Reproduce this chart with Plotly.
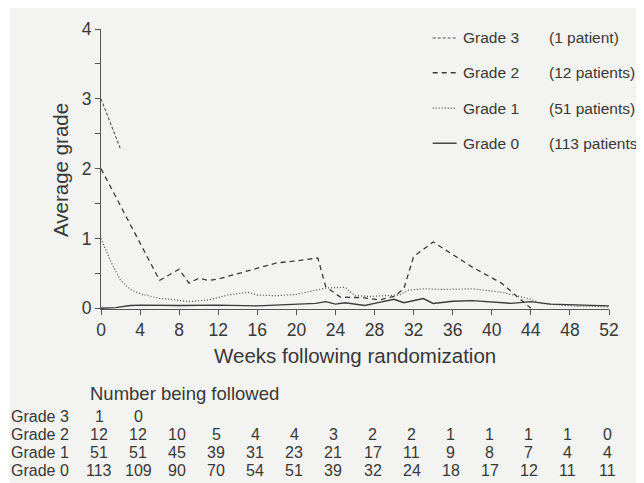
import plotly.graph_objects as go

# ---------------- data ----------------
g3_weeks = [0, 2]
g3_vals = [3.0, 2.28]

g2_weeks = [0, 2, 4, 6, 8, 9, 10, 11, 12, 14, 16, 18, 20, 22.2, 23, 24.5, 27, 28.5, 30, 31, 32, 34, 38, 41, 44]
g2_vals = [2.0, 1.47, 0.95, 0.40, 0.56, 0.36, 0.43, 0.40, 0.42, 0.50, 0.58, 0.65, 0.68, 0.72, 0.31, 0.16, 0.15, 0.12, 0.17, 0.28, 0.74, 0.95, 0.59, 0.36, 0.0]

g1_weeks = [0, 1, 2, 3, 4, 6, 7, 9, 11, 13, 15, 16, 18, 20, 23, 25, 26, 27.5, 30.5, 31.5, 33, 35, 38, 41, 44, 45, 48, 52]
g1_vals = [1.0, 0.67, 0.40, 0.27, 0.21, 0.14, 0.13, 0.095, 0.12, 0.19, 0.23, 0.19, 0.18, 0.20, 0.29, 0.30, 0.18, 0.17, 0.19, 0.26, 0.28, 0.27, 0.28, 0.23, 0.13, 0.07, 0.035, 0.02]

g0_weeks = [0, 1.5, 3, 4, 8, 12, 16, 18, 20, 22, 23, 24, 25, 27, 28, 30, 31, 33, 34, 36, 38, 42, 44, 46, 52]
g0_vals = [0.0, 0.01, 0.04, 0.045, 0.04, 0.045, 0.035, 0.05, 0.06, 0.07, 0.095, 0.06, 0.08, 0.04, 0.07, 0.13, 0.08, 0.14, 0.07, 0.10, 0.11, 0.07, 0.095, 0.06, 0.035]

x_ticks = [0, 4, 8, 12, 16, 20, 24, 28, 32, 36, 40, 44, 48, 52]
y_ticks = [0, 0.5, 1, 1.5, 2, 2.5, 3, 3.5, 4]
y_ticklabels = ["0", "", "1", "", "2", "", "3", "", "4"]

legend_names = ["Grade 3", "Grade 2", "Grade 1", "Grade 0"]
legend_counts = ["(1 patient)", "(12 patients)", "(51 patients)", "(113 patients)"]

table_rows = ["Grade 3", "Grade 2", "Grade 1", "Grade 0"]
follow_g3 = [1, 0]
follow_g2 = [12, 12, 10, 5, 4, 4, 3, 2, 2, 1, 1, 1, 1, 0]
follow_g1 = [51, 51, 45, 39, 31, 23, 21, 17, 11, 9, 8, 7, 4, 4]
follow_g0 = [113, 109, 90, 70, 54, 51, 39, 32, 24, 18, 17, 12, 11, 11]

# ---------------- styling ----------------
FONT = "Liberation Sans, Arial, Helvetica, sans-serif"
TXT = "#383838"
LINE = "#3a3a3a"
styles = [
    dict(color="#555555", width=1.1, dash="3px,2px"),
    dict(color=LINE, width=1.3, dash="5px,4px"),
    dict(color="#4a4a4a", width=1.2, dash="1px,2px"),
    dict(color=LINE, width=1.4, dash="solid"),
]

fig = go.Figure()
for (wx, vy), st, nm in zip(
    [(g3_weeks, g3_vals), (g2_weeks, g2_vals), (g1_weeks, g1_vals), (g0_weeks, g0_vals)],
    styles, legend_names):
    fig.add_trace(go.Scatter(x=wx, y=vy, mode="lines", line=st, name=nm,
                             showlegend=False, hoverinfo="skip"))

# page body margin offsets the figure by 8px
W, H = 644, 483


def FX(d):
    return d - 8


def FY(d):
    return d - 8


plot_left, plot_right = FX(101), FX(609.5)
plot_top, plot_bottom = FY(19), FY(309)
ml, mr = plot_left, W - plot_right
mt, mb = plot_top, H - plot_bottom
pw, ph = plot_right - plot_left, plot_bottom - plot_top


def px_x(d):
    return (FX(d) - plot_left) / pw


def px_y(d):
    return (plot_bottom - FY(d)) / ph


annotations = []
shapes = []

shapes.append(dict(type="rect", xref="paper", yref="paper", layer="below",
                   x0=px_x(10), x1=px_x(700), y0=px_y(560), y1=px_y(-20),
                   fillcolor="#f3f3f1", line=dict(width=0)))

annotations.append(dict(text="Weeks following randomization", xref="paper", yref="paper",
                        x=0.5, y=px_y(357), xanchor="center", yanchor="middle",
                        showarrow=False, font=dict(size=20.5, color=TXT, family=FONT)))
annotations.append(dict(text="Average grade", xref="paper", yref="paper", textangle=-90,
                        x=px_x(61), y=px_y(165), xanchor="center", yanchor="middle",
                        showarrow=False, font=dict(size=20.5, color=TXT, family=FONT)))

leg_y = [28.3, 64.3, 101, 137.3]
for i in range(4):
    yy = px_y(leg_y[i])
    st = styles[i]
    shapes.append(dict(type="line", xref="paper", yref="paper",
                       x0=px_x(433), x1=px_x(457), y0=yy, y1=yy,
                       line=dict(color=st["color"], width=st["width"], dash=st["dash"])))
    annotations.append(dict(text=legend_names[i], xref="paper", yref="paper",
                            x=px_x(461), y=yy, xanchor="left", yanchor="middle",
                            showarrow=False, font=dict(size=15.5, color=TXT, family=FONT)))
    annotations.append(dict(text=legend_counts[i], xref="paper", yref="paper",
                            x=px_x(547), y=yy, xanchor="left", yanchor="middle",
                            showarrow=False, font=dict(size=15.5, color=TXT, family=FONT)))

annotations.append(dict(text="Number being followed", xref="paper", yref="paper",
                        x=px_x(88), y=px_y(396), xanchor="left", yanchor="middle",
                        showarrow=False, font=dict(size=18.5, color=TXT, family=FONT)))
row_y = [420, 439.3, 458, 476.5]
for r, (lab, vals) in enumerate(zip(table_rows, [follow_g3, follow_g2, follow_g1, follow_g0])):
    yy = px_y(row_y[r])
    annotations.append(dict(text=lab, xref="paper", yref="paper",
                            x=px_x(9), y=yy, xanchor="left", yanchor="middle",
                            showarrow=False, font=dict(size=16, color=TXT, family=FONT)))
    for k, v in enumerate(vals):
        annotations.append(dict(text=str(v), xref="x", yref="paper",
                                x=x_ticks[k], y=yy, xanchor="center", yanchor="middle",
                                xshift=-2, showarrow=False,
                                font=dict(size=16, color=TXT, family=FONT)))

fig.update_layout(
    width=W, height=H,
    margin=dict(l=ml, r=mr, t=mt, b=mb, pad=0),
    paper_bgcolor="white",
    plot_bgcolor="rgba(0,0,0,0)",
    showlegend=False,
    font=dict(family=FONT, color=TXT),
    annotations=annotations,
    shapes=shapes,
)
fig.update_xaxes(range=[0, 52], tickvals=x_ticks, ticks="outside", ticklen=5,
                 tickcolor="#555", tickwidth=1, showline=True, linecolor="#555",
                 linewidth=1.2, showgrid=False, zeroline=False,
                 tickfont=dict(size=17.5, color=TXT, family=FONT))
fig.update_yaxes(range=[-0.01, 4.0], tickvals=y_ticks, ticktext=y_ticklabels,
                 ticks="outside", ticklen=5, tickcolor="#555", tickwidth=1,
                 showline=True, linecolor="#555", linewidth=1.2, showgrid=False,
                 zeroline=False, ticklabeloverflow="allow",
                 tickfont=dict(size=17.5, color=TXT, family=FONT))

fig.write_html("out.html")
